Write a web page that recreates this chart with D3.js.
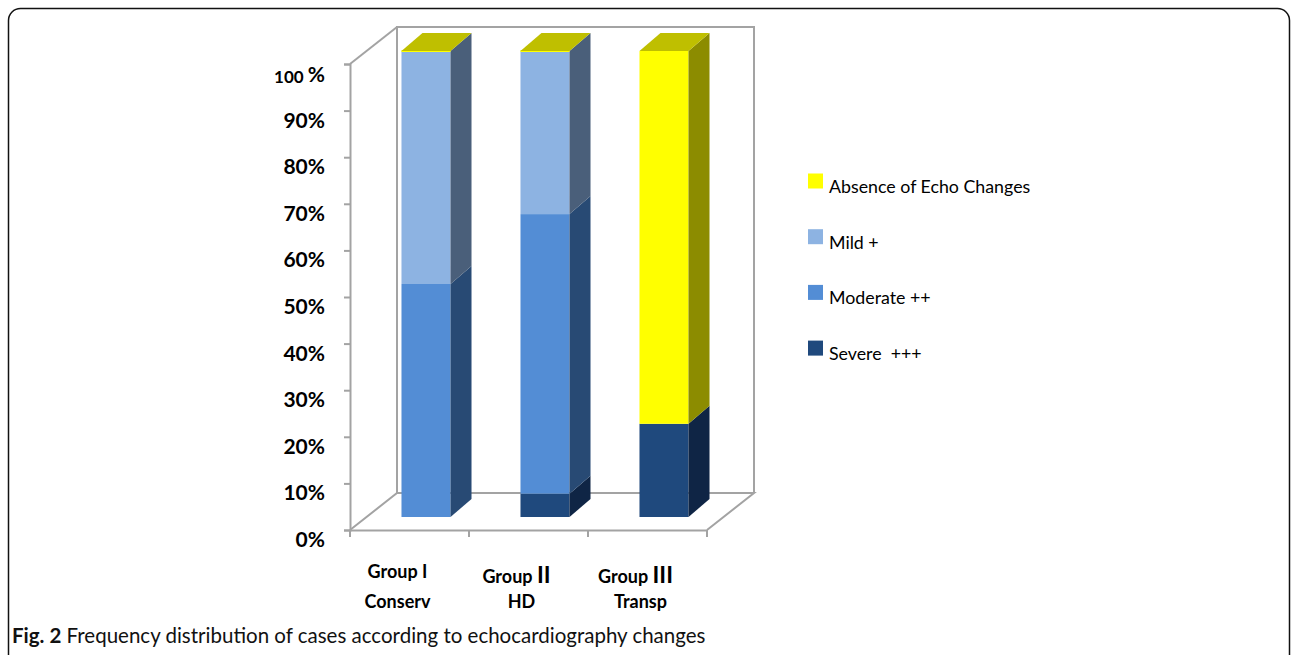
<!DOCTYPE html>
<html><head><meta charset="utf-8">
<script src="https://cdn.jsdelivr.net/npm/d3@7"></script>
<style>
html,body{margin:0;padding:0;background:#fff;}
svg{display:block;}
</style></head>
<body>
<svg id="chart" width="1292" height="655"></svg>
<script>
const categories = ["Group I", "Group II", "Group III"];
const categoryNumerals = ["I", "II", "III"];
const categorySub = ["Conserv", "HD", "Transp"];
const seriesNames = ["Severe  +++", "Moderate ++", "Mild +", "Absence of Echo Changes"];
const severe   = [0, 5, 20];
const moderate = [50, 60, 0];
const mild     = [50, 35, 0];
const absence  = [0, 0, 80];
const yTicks = [0, 10, 20, 30, 40, 50, 60, 70, 80, 90, 100];
const legendOrder = ["Absence of Echo Changes", "Mild +", "Moderate ++", "Severe  +++"];
const caption = "Frequency distribution of cases according to echocardiography changes";

const frontColors = {"Severe  +++":"#1f497d","Moderate ++":"#538dd5","Mild +":"#8db3e2","Absence of Echo Changes":"#ffff00"};
const sideColors  = {"Severe  +++":"#0f2545","Moderate ++":"#284a74","Mild +":"#4a5f7a","Absence of Echo Changes":"#8c8c00"};
const topColor = "#bfbf00";

const svg = d3.select("#chart");
const font = "Lato, 'Liberation Sans', sans-serif";

// outer frame
svg.append("rect").attr("x",8.5).attr("y",8.5).attr("width",1281).attr("height",660)
  .attr("rx",12).attr("fill","none").attr("stroke","#111").attr("stroke-width",1.5);

// geometry
const x0 = 350, x1 = 707;
const y = d3.scaleLinear().domain([0,100]).range([530,64]);
const depth = [47,-37];          // wall depth
const barShift = [16.5,-13];     // bar front plane offset
const barDepth = [21,-18];       // bar depth
const x = d3.scaleBand().domain(categories).range([x0,x1]).paddingInner(0.588).paddingOuter(0.294);
const band = d3.scaleBand().domain(categories).range([x0,x1]);

const wall = "#a3a3a3";
const g = svg.append("g").attr("stroke",wall).attr("stroke-width",2).attr("fill","none");
const line = d3.line();
const yb0 = y(0), yb100 = y(100);
// floor
g.append("path").attr("d", line([[x0,yb0],[x0+depth[0],yb0+depth[1]],[x1+depth[0],yb0+depth[1]],[x1,yb0]]));
// back wall
g.append("path").attr("d", line([[x0+depth[0],yb0+depth[1]],[x0+depth[0],yb100+depth[1]],[x1+depth[0],yb100+depth[1]],[x1+depth[0],yb0+depth[1]]]));
// left side top diagonal
g.append("path").attr("d", line([[x0,yb100],[x0+depth[0],yb100+depth[1]]]));

// y axis
const yAxis = d3.axisLeft(y).tickValues(yTicks).tickSize(6).tickFormat("");
const ya = svg.append("g").attr("transform",`translate(${x0},0)`).call(yAxis);
ya.select(".domain").attr("stroke",wall).attr("stroke-width",2);
ya.selectAll(".tick line").attr("stroke",wall).attr("stroke-width",2);

// x axis
const xa = svg.append("g").attr("transform",`translate(0,${yb0})`)
  .call(d3.axisBottom(band).tickSize(0).tickFormat(""));
xa.select(".domain").attr("stroke",wall).attr("stroke-width",2);
const xt = band.domain().map(d=>band(d)).concat([x1]);
xa.selectAll(".xtick").data(xt).join("line").attr("class","xtick")
  .attr("x1",d=>d).attr("x2",d=>d).attr("y1",0).attr("y2",7).attr("stroke",wall).attr("stroke-width",2);

// y labels
yTicks.forEach(v=>{
  const t = svg.append("text").attr("x",325).attr("y",y(v)+17).attr("text-anchor","end")
    .attr("font-family",font).attr("font-weight","bold").attr("fill","#000");
  if (v===100){
    t.append("tspan").attr("font-size",17).text("100 ");
    t.append("tspan").attr("font-size",21).attr("dy",-1).text("%");
    t.attr("y", y(v)+19);
  } else {
    t.attr("font-size",21).text(v+"%");
  }
});

// stacked bars
const series = [severe, moderate, mild, absence];
categories.forEach((c,i)=>{
  const bx = x(c) + barShift[0];
  const bw = x.bandwidth();
  let cum = 0;
  const gg = svg.append("g");
  series.forEach((s,k)=>{
    const name = seriesNames[k];
    const v = s[i];
    const yTop = y(cum+v) + barShift[1];
    const yBot = y(cum) + barShift[1];
    if (v>0){
      gg.append("rect").attr("x",bx).attr("y",yTop).attr("width",bw).attr("height",yBot-yTop)
        .attr("fill",frontColors[name]);
      gg.append("path").attr("fill",sideColors[name]).attr("d", line([
        [bx+bw,yBot],[bx+bw,yTop],[bx+bw+barDepth[0],yTop+barDepth[1]],[bx+bw+barDepth[0],yBot+barDepth[1]]])+"Z");
    } else if (k===series.length-1){
      gg.append("rect").attr("x",bx).attr("y",yTop-1).attr("width",bw).attr("height",2)
        .attr("fill",frontColors[name]);
    }
    cum += v;
  });
  // top face
  const yTop = y(cum) + barShift[1];
  gg.append("path").attr("fill",topColor).attr("d", line([
    [bx,yTop],[bx+bw,yTop],[bx+bw+barDepth[0],yTop+barDepth[1]],[bx+barDepth[0],yTop+barDepth[1]]])+"Z");
});

// category labels
categories.forEach((c,i)=>{
  const cx = band(c) + band.bandwidth()/2 - 12;
  const t = svg.append("text").attr("x",cx).attr("y", i===0?578:583).attr("text-anchor","middle")
    .attr("font-family",font).attr("font-weight","bold").attr("font-size",18).attr("fill","#000");
  t.append("tspan").text("Group ");
  t.append("tspan").attr("font-size", i===0?18:23).text(categoryNumerals[i]);
  svg.append("text").attr("x",cx+ (i===0?0:5)).attr("y",608).attr("text-anchor","middle")
    .attr("font-family",font).attr("font-weight","bold").attr("font-size",18).attr("fill","#000")
    .text(categorySub[i]);
});

// legend
const lg = svg.append("g");
legendOrder.forEach((n,i)=>{
  const cy = 181 + i*55.7;
  lg.append("rect").attr("x",808).attr("y",cy-7.5).attr("width",15).attr("height",15).attr("fill",frontColors[n]);
  lg.append("text").attr("x",829).attr("y",cy+12).attr("font-family",font).attr("font-size",17.8)
    .attr("fill","#000").attr("xml:space","preserve").style("white-space","pre").text(n);
});

// caption
const cap = svg.append("text").attr("x",12).attr("y",643).attr("font-family",font).attr("font-size",20.5).attr("fill","#111");
cap.append("tspan").attr("font-weight","bold").text("Fig. 2");
cap.append("tspan").text(" " + caption);
</script>
</body></html>
